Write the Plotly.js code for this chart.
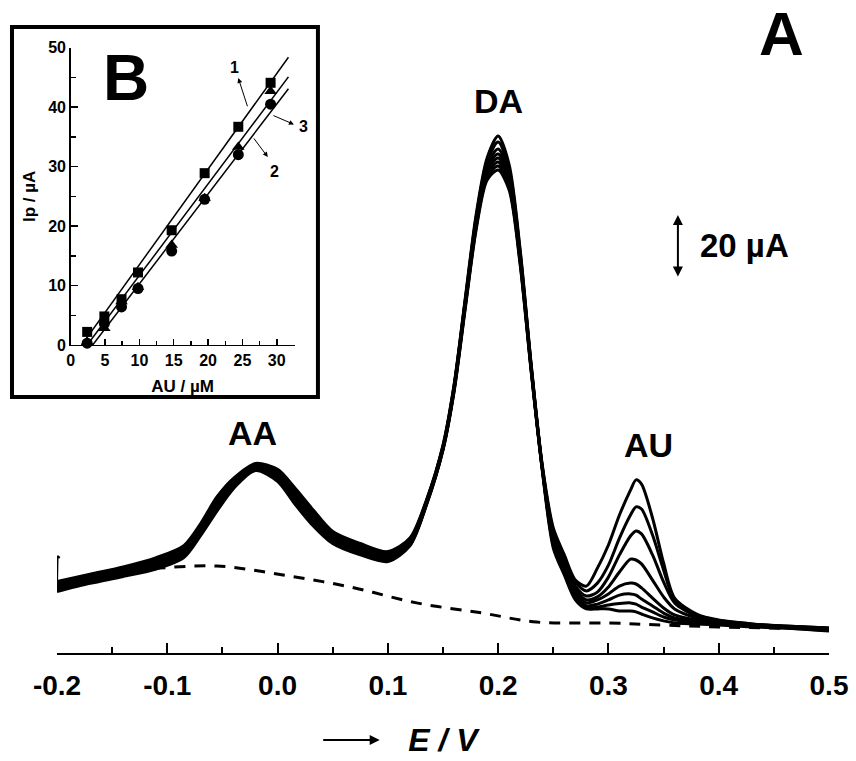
<!DOCTYPE html>
<html>
<head>
<meta charset="utf-8">
<script src="https://cdn.plot.ly/plotly-3.0.1.min.js"></script>
<style>html,body{margin:0;padding:0;background:#fff;}#chart{width:856px;height:761px;}</style>
</head>
<body>
<div id="chart"></div>
<script>
// ---------- main DPV curves (E / V, I / µA) ----------
const E = [-0.2,-0.17,-0.14,-0.11,-0.085,-0.07,-0.055,-0.04,-0.02,0.0,0.015,0.03,0.05,0.075,0.1,0.12,0.135,0.15,0.16,0.17,0.18,0.19,0.2,0.21,0.22,0.23,0.24,0.25,0.26,0.27,0.28,0.29,0.3,0.31,0.32,0.325,0.33,0.34,0.35,0.36,0.38,0.4,0.43,0.46,0.5];
const curve1 = [20.5,23.2,25.5,28.0,31.8,39.0,47.3,54.8,60.8,57.2,50.0,43.3,36.5,32.7,30.5,35.7,49.3,67.7,87.0,114.3,141.0,157.7,161.0,154.3,129.3,93.7,61.0,35.0,26.0,17.7,14.7,14.7,14.7,14.0,14.0,13.7,13.0,11.7,10.7,10.0,9.7,9.3,8.7,8.3,7.3];
const curve2 = [21.0,23.7,26.0,28.5,32.3,39.5,48.0,55.3,61.2,57.8,50.7,44.2,37.0,33.2,31.0,36.0,49.5,67.8,87.3,114.8,141.7,158.7,162.3,155.3,130.0,94.0,61.2,36.0,26.8,18.5,15.0,15.3,16.0,16.5,16.7,16.3,15.3,13.7,12.0,11.0,10.3,9.7,9.0,8.3,7.5];
const curve3 = [21.5,24.2,26.5,29.0,33.0,40.2,48.7,55.8,61.5,58.3,51.5,45.0,37.7,33.7,31.5,36.3,49.7,68.0,87.7,115.3,142.3,159.7,163.7,156.5,130.7,94.3,61.3,36.7,27.7,19.3,15.7,16.3,17.7,19.3,19.7,19.3,18.0,15.7,13.3,11.7,10.7,9.8,9.0,8.5,7.7];
const curve4 = [22.0,24.7,27.0,29.5,33.5,40.7,49.3,56.3,61.8,59.0,52.3,45.7,38.2,34.2,32.0,36.7,50.0,68.3,88.0,115.8,143.0,160.7,165.0,157.7,131.3,94.7,61.7,37.7,28.7,20.3,16.7,17.7,19.7,22.3,23.3,23.0,21.7,18.3,15.0,12.7,11.0,10.0,9.2,8.7,7.8];
const curve5 = [22.3,25.0,27.3,30.0,34.0,41.3,50.0,56.7,62.2,59.3,53.0,46.3,38.7,34.7,32.3,37.0,50.2,68.5,88.3,116.3,143.7,161.7,166.3,158.7,132.0,95.0,61.8,38.7,29.7,21.3,17.7,18.7,22.0,27.0,31.3,31.0,29.7,24.3,18.7,14.7,11.7,10.3,9.3,8.7,8.0];
const curve6 = [22.8,25.3,27.7,30.7,34.7,41.8,50.7,57.2,62.5,60.0,53.8,47.2,39.3,35.3,32.8,37.3,50.5,68.7,88.7,116.7,144.3,162.7,168.0,159.8,132.7,95.3,62.0,39.7,30.7,22.3,19.0,20.3,25.3,32.7,39.0,40.7,39.7,32.7,23.7,16.7,12.3,10.7,9.5,8.8,8.2];
const curve7 = [23.3,25.8,28.2,31.2,35.2,42.5,51.3,57.7,62.8,60.5,54.7,48.0,39.8,35.8,33.3,37.8,50.7,69.0,89.0,117.2,145.2,164.0,170.3,161.3,133.5,95.7,62.3,40.7,31.7,23.7,20.7,23.3,29.3,38.3,46.0,48.7,48.0,39.3,27.7,17.7,12.7,10.8,9.7,9.0,8.3];
const curve8 = [23.8,26.3,28.7,31.8,35.8,43.0,52.0,58.2,63.2,61.2,55.3,48.7,40.5,36.5,33.8,38.3,51.0,69.3,89.3,117.7,146.0,165.0,172.3,162.7,134.3,96.0,62.7,41.7,32.7,24.3,22.3,28.3,36.0,46.0,54.3,57.7,56.3,45.0,30.0,18.3,13.0,11.0,9.7,9.0,8.3];
// blank (dashed)
const E_blank = [-0.2,-0.15,-0.107,-0.055,0.005,0.066,0.126,0.186,0.235,0.3,0.35,0.4,0.5];
const I_blank = [21.7,27.0,28.3,29.0,26.0,22.0,16.7,13.3,10.3,10.0,9.3,8.7,8.0];
// start transient hook at left edge
const E_hook = [-0.2,-0.2,-0.1995,-0.1975];
const I_hook = [22.7,31.0,32.3,31.7];

// main axis ticks
const xTickVals = [-0.2,-0.1,0.0,0.1,0.2,0.3,0.4,0.5];
const xTickText = ['-0.2','-0.1','0.0','0.1','0.2','0.3','0.4','0.5'];

// ---------- inset B: Ip vs AU ----------
const auConc = [2.4,4.9,7.4,9.8,14.7,19.5,24.4,29.1];
const ip1 = [2.2,4.8,7.7,12.2,19.3,28.9,36.7,44.1];
const ip2 = [0.5,2.8,7.3,9.7,16.8,24.7,33.3,42.7];
const ip3 = [0.3,3.6,6.4,9.5,15.8,24.5,32.0,40.5];
const fit1X = [1.6,31.7], fit1Y = [0,48.4];
const fit2X = [2.4,31.7], fit2Y = [0,45.1];
const fit3X = [3.2,31.7], fit3Y = [0,43.1];

const FONT = 'Liberation Sans, Arial, Helvetica, sans-serif';
const curves = [curve1,curve2,curve3,curve4,curve5,curve6,curve7,curve8];
const traces = [];
curves.forEach(c => traces.push({
  x: E, y: c, type: 'scatter', mode: 'lines',
  line: {color: 'black', width: 3, shape: 'spline', smoothing: 0.8},
  hoverinfo: 'skip'
}));
traces.push({x: E_blank, y: I_blank, type: 'scatter', mode: 'lines',
  line: {color: 'black', width: 3, dash: '11px,9px', shape: 'spline', smoothing: 1}});
traces.push({x: E_hook, y: I_hook, type: 'scatter', mode: 'lines',
  line: {color: 'black', width: 2}});

// inset traces
[[fit1X,fit1Y],[fit2X,fit2Y],[fit3X,fit3Y]].forEach(f => traces.push({
  x: f[0], y: f[1], xaxis: 'x2', yaxis: 'y2', type: 'scatter', mode: 'lines',
  line: {color: 'black', width: 1.5}
}));
traces.push({x: auConc, y: ip1, xaxis: 'x2', yaxis: 'y2', type: 'scatter', mode: 'markers',
  marker: {symbol: 'square', size: 10, color: 'black'}, cliponaxis: false});
traces.push({x: auConc, y: ip2, xaxis: 'x2', yaxis: 'y2', type: 'scatter', mode: 'markers',
  marker: {symbol: 'triangle-up', size: 11, color: 'black'}, cliponaxis: false});
traces.push({x: auConc, y: ip3, xaxis: 'x2', yaxis: 'y2', type: 'scatter', mode: 'markers',
  marker: {symbol: 'circle', size: 11, color: 'black'}, cliponaxis: false});

const bold = (size) => ({size: size, family: FONT, color: 'black', weight: 'bold'});
const pap = (x, y, text, size) => ({xref: 'paper', yref: 'paper', x: x, y: y, xanchor: 'center', yanchor: 'middle',
  text: text, showarrow: false, font: bold(size)});

const layout = {
  width: 856, height: 761,
  margin: {l: 57, r: 27, t: 20, b: 108},
  paper_bgcolor: 'white', plot_bgcolor: 'rgba(0,0,0,0)',
  showlegend: false,
  font: {family: FONT, color: 'black'},
  xaxis: {
    range: [-0.2, 0.5], tickvals: xTickVals, ticktext: xTickText,
    ticks: 'inside', ticklen: 10, tickwidth: 2, tickcolor: 'black',
    showline: true, linewidth: 2, linecolor: 'black', showgrid: false, zeroline: false,
    minor: {tick0: -0.2, dtick: 0.05, ticks: 'inside', ticklen: 6, tickwidth: 2, tickcolor: 'black', showgrid: false},
    tickfont: bold(28), ticklabelstandoff: 6,
    title: {text: '<b><i>E / V</i></b>', font: {size: 32, family: FONT, color: 'black'}, standoff: 29}
  },
  yaxis: {range: [0, 211], visible: false},
  xaxis2: {
    domain: [0.01775, 0.3078], anchor: 'y2', range: [0, 32.6],
    tick0: 0, dtick: 5, ticks: 'inside', ticklen: 6, tickwidth: 1.5, tickcolor: 'black',
    minor: {dtick: 2.5, ticks: 'inside', ticklen: 4, tickwidth: 1.5, tickcolor: 'black', showgrid: false},
    showline: true, linewidth: 1.5, linecolor: 'black', showgrid: false, zeroline: false,
    tickfont: bold(16),
    title: {text: 'AU / µM', font: bold(17), standoff: 12}
  },
  yaxis2: {
    domain: [0.4866, 0.9562], anchor: 'x2', range: [0, 50],
    tick0: 0, dtick: 10, ticks: 'inside', ticklen: 7, tickwidth: 1.5, tickcolor: 'black',
    minor: {dtick: 5, ticks: 'inside', ticklen: 5, tickwidth: 1.5, tickcolor: 'black', showgrid: false},
    showline: true, linewidth: 1.5, linecolor: 'black', showgrid: false, zeroline: false,
    tickfont: bold(16),
    title: {text: 'Ip / µA', font: bold(17), standoff: 8}
  },
  shapes: [
    {type: 'rect', xref: 'paper', yref: 'paper', x0: -0.0583, x1: 0.338, y0: 0.4044, y1: 0.989,
     line: {color: 'black', width: 4}, fillcolor: 'rgba(0,0,0,0)'}
  ],
  annotations: [
    pap(0.939, 0.979, 'A', 62),
    pap(0.0894, 0.9076, 'B', 64),
    pap(0.3187, 0.831, '3', 16),
    {x: 0.2, y: 184, text: 'DA', showarrow: false, font: bold(34)},
    {x: -0.023, y: 73.3, text: 'AA', showarrow: false, font: bold(34)},
    {x: 0.336, y: 69.3, text: 'AU', showarrow: false, font: bold(34)},
    {x: 0.381, y: 136, xanchor: 'left', text: '20 µA', showarrow: false, font: bold(33)},
    // scale bar
    {x: 0.363, y: 125.5, ax: 0.363, ay: 146.5, axref: 'x', ayref: 'y', text: '', showarrow: true,
     arrowside: 'end+start', arrowhead: 2, arrowsize: 1, arrowwidth: 2, arrowcolor: 'black', standoff: 0, startstandoff: 0},
    // arrow left of E / V
    {xref: 'paper', yref: 'paper', x: 0.418, y: -0.1374, ax: -58, ay: 0, text: '', showarrow: true,
     arrowhead: 2, arrowsize: 1, arrowwidth: 2, arrowcolor: 'black'},
    // inset labels and pointers
    {xref: 'x2', yref: 'y2', x: 23.9, y: 46.6, text: '1', showarrow: false, font: bold(16)},
    {xref: 'x2', yref: 'y2', x: 29.6, y: 29.1, text: '2', showarrow: false, font: bold(16)},
    {xref: 'x2', yref: 'y2', x: 24.4, y: 44.9, ax: 25.8, ay: 39.9, axref: 'x2', ayref: 'y2', text: '', showarrow: true,
     arrowhead: 2, arrowsize: 1, arrowwidth: 1, arrowcolor: 'black'},
    {xref: 'x2', yref: 'y2', x: 28.7, y: 31.6, ax: 26.5, ay: 35.0, axref: 'x2', ayref: 'y2', text: '', showarrow: true,
     arrowhead: 2, arrowsize: 1, arrowwidth: 1, arrowcolor: 'black'},
    {xref: 'x2', yref: 'y2', x: 32.5, y: 37.1, ax: 29.3, ay: 38.7, axref: 'x2', ayref: 'y2', text: '', showarrow: true,
     arrowhead: 2, arrowsize: 1, arrowwidth: 1, arrowcolor: 'black'}
  ]
};

Plotly.newPlot('chart', traces, layout, {staticPlot: true, displayModeBar: false});
</script>
</body>
</html>
